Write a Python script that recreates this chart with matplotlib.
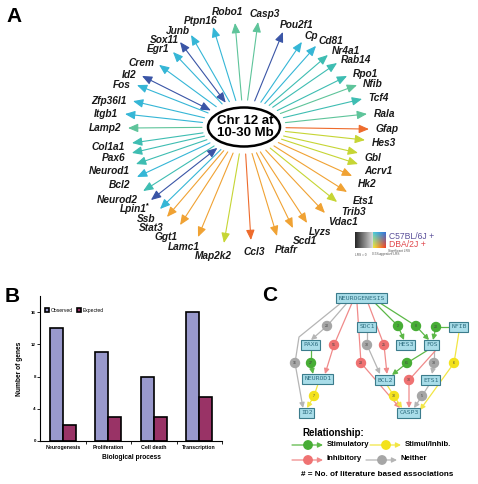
import numpy as np
import matplotlib
matplotlib.use('Agg')
import matplotlib.pyplot as plt
from matplotlib.patches import Ellipse, FancyBboxPatch, Circle

plt.rcParams['font.family'] = ['Liberation Sans', 'DejaVu Sans']

# ---------------- данные панели A ----------------
genes = ['Ptpn16', 'Junb', 'Sox11', 'Egr1', 'Crem', 'Id2', 'Fos', 'Zfp36l1', 'Itgb1',
         'Lamp2', 'Col1a1', 'Pax6', 'Neurod1', 'Bcl2', 'Neurod2', 'Lpin1', 'Ssb',
         'Stat3', 'Ggt1', 'Lamc1', 'Map2k2', 'Ccl3', 'Ptafr', 'Scd1', 'Lyzs', 'Vdac1',
         'Trib3', 'Ets1', 'Hk2', 'Acrv1', 'Gbl', 'Hes3', 'Gfap', 'Rala', 'Tcf4', 'Nfib',
         'Rpo1', 'Rab14', 'Nr4a1', 'Cd81', 'Cp', 'Pou2f1', 'Casp3', 'Robo1']
angles = [106.4, 117.7, 124.1, 130.1, 140.0, 149.6, 154.9, 163.4, 170.8,
          177.9, 186.0, 191.3, 197.6, 204.2, 212.0, 217.9, 224.2,
          229.4, 236.8, 247.0, 259.3, 271.9, 284.7, 293.5, 301.0, 311.2,
          319.5, 326.6, 335.3, 342.4, 348.3, 355.7, 1.5, 9.4, 17.5, 25.1,
          31.6, 40.1, 46.3, 53.9, 61.0, 71.9, 84.8, 95.7]
reach = [0.986, 0.987, 0.979, 0.942, 0.941, 0.998, 0.996, 0.975, 1.013,
         0.976, 0.948, 0.962, 0.955, 0.989, 1.004, 0.998, 0.995,
         1.008, 1.002, 1.028, 1.018, 0.974, 0.969, 0.944, 0.956, 0.970,
         0.971, 0.982, 0.948, 0.955, 0.929, 0.970, 1.0, 0.997, 0.989, 0.996,
         0.963, 0.965, 0.960, 0.960, 0.928, 0.948, 0.995, 0.987]
groups = ['cy', 'cy', 'db', 'cy', 'cy', 'db', 'cy', 'cy', 'cy',
          'gr', 'te', 'te', 'te', 'cy', 'te', 'db', 'cy',
          'or', 'or', 'or', 'yg', 'rd', 'or', 'or', 'or', 'or',
          'yg', 'or', 'or', 'yg', 'yg', 'yg', 'rd', 'gr', 'te', 'gr',
          'te', 'te', 'te', 'cy', 'cy', 'db', 'gr', 'gr']
both_ways = ['Sox11', 'Id2', 'Lpin1']
starred = ['Lpin1']

colors = {'db': '#3a55a6', 'cy': '#35b6d6', 'te': '#3ebdb2', 'gr': '#5ec49a',
          'or': '#f0a233', 'yg': '#c6d534', 'rd': '#ee6b2c'}

# ---------------- данные панели B ----------------
processes = ['Neurogenesis', 'Proliferation', 'Cell death', 'Transcription']
observed = [14, 11, 8, 16]
expected = [2, 3, 3, 5.5]

# ---------------- данные панели C ----------------
nodes = {'NEUROGENESIS': (362, 298), 'PAX6': (311, 345), 'SDC1': (367, 327),
         'HES3': (406, 345), 'FOS': (432, 345), 'NFIB': (459, 327),
         'NEUROD1': (318, 379), 'BCL2': (385, 380), 'ETS1': (431, 380),
         'ID2': (307, 413), 'CASP3': (409, 413)}
# (откуда, куда, тип, число, маршрут)
edges = [('NEUROGENESIS', 'PAX6', 'n', 20, [(347, 303), (327, 326), (311, 340)]),
         ('NEUROGENESIS', 'ID2', 'n', 16, [(341, 303), (299, 337), (295, 363), (303, 408)]),
         ('NEUROGENESIS', 'NEUROD1', 'i', 51, [(352, 303), (334, 345), (325, 374)]),
         ('NEUROGENESIS', 'CASP3', 'i', 23, [(357, 303), (361, 363), (400, 408)]),
         ('NEUROGENESIS', 'BCL2', 'i', 25, [(368, 303), (384, 345), (387, 374)]),
         ('NEUROGENESIS', 'HES3', 's', 2, [(375, 303), (398, 326), (404, 340)]),
         ('NEUROGENESIS', 'FOS', 's', 8, [(380, 303), (416, 326), (429, 340)]),
         ('NFIB', 'FOS', 's', 20, [(449, 327), (436, 327), (433, 340)]),
         ('PAX6', 'NEUROD1', 's', 27, [(311, 349), (311, 363), (313, 374)]),
         ('SDC1', 'BCL2', 'n', 30, [(367, 332), (367, 345), (380, 374)]),
         ('FOS', 'BCL2', 's', 61, [(428, 350), (407, 363), (392, 375)]),
         ('FOS', 'ETS1', 'n', 33, [(434, 350), (434, 363), (432, 374)]),
         ('FOS', 'CASP3', 'i', 30, [(436, 350), (409, 380), (409, 408)]),
         ('NFIB', 'CASP3', 'y', 6, [(459, 332), (454, 363), (420, 410)]),
         ('ETS1', 'CASP3', 'n', 5, [(429, 385), (422, 396), (414, 408)]),
         ('BCL2', 'CASP3', 'y', 30, [(387, 385), (394, 396), (402, 408)]),
         ('NEUROD1', 'ID2', 'y', 7, [(318, 384), (314, 396), (307, 408)])]
edge_line = {'s': '#5cb847', 'i': '#f08a8a', 'n': '#b5b5b5', 'y': '#f2e645'}
edge_dot = {'s': '#47ad35', 'i': '#ef7272', 'n': '#a6a6a6', 'y': '#f3e21c'}

fig = plt.figure(figsize=(4.78, 4.84), dpi=100)
ax = fig.add_axes([0, 0, 1, 1])
ax.set_xlim(0, 478)
ax.set_ylim(484, 0)
ax.axis('off')

# ---------------- Панель A ----------------
ring_cx, ring_cy, ring_a, ring_b = 247, 132, 122, 111
ell_cx, ell_cy = 244, 127
fig.canvas.draw()
renderer = fig.canvas.get_renderer()

labels, pos, size = [], [], []
for name, t, r, g in zip(genes, angles, reach, groups):
    c, s = np.cos(np.radians(t)), np.sin(np.radians(t))
    tip = np.array([ring_cx + ring_a * r * c, ring_cy - ring_b * r * s])
    v = tip - np.array([ell_cx, ell_cy])
    k = 1 / np.sqrt((v[0] / 42) ** 2 + (v[1] / 27) ** 2)
    start = np.array([ell_cx, ell_cy]) + k * v
    style = '<|-|>' if name in both_ways else '-|>'
    ax.annotate('', xy=tip, xytext=start,
                arrowprops=dict(arrowstyle=style + ',head_length=0.75,head_width=0.32',
                                color=colors[g], lw=0.8, shrinkA=0, shrinkB=0,
                                mutation_scale=8))
    txt = ax.text(tip[0], tip[1], name, ha='center', va='center', fontsize=7.3,
                  fontweight='bold', fontstyle='italic', color='#1a1a1a')
    bb = txt.get_window_extent(renderer)
    w, h = bb.width, bb.height
    dx = np.sign(c) * np.sqrt(abs(c)) * (w / 2 + 7)
    if s > 0:
        dy = -(h / 2 + 3) * (s ** 2 if c > 0 else s ** 4)
    else:
        dy = (h / 2 + 7) * np.sqrt(-s)
    labels.append(txt)
    pos.append([tip[0] + dx, tip[1] + dy])
    size.append((w, h * 0.9))

# раздвигаем подписи, которые налезают друг на друга
pos = np.array(pos)
for _ in range(60):
    for i in range(len(pos)):
        for j in range(i + 1, len(pos)):
            ox = min(pos[i][0] + size[i][0] / 2, pos[j][0] + size[j][0] / 2) - \
                max(pos[i][0] - size[i][0] / 2, pos[j][0] - size[j][0] / 2)
            oy = min(pos[i][1] + size[i][1] / 2, pos[j][1] + size[j][1] / 2) - \
                max(pos[i][1] - size[i][1] / 2, pos[j][1] - size[j][1] / 2)
            if ox > 0 and oy > 0:
                d = (oy + 0.3) / 2
                if pos[i][1] < pos[j][1]:
                    pos[i][1] -= d
                    pos[j][1] += d
                else:
                    pos[i][1] += d
                    pos[j][1] -= d
for name, txt, p, sz in zip(genes, labels, pos, size):
    txt.set_position(p)
    if name in starred:
        ax.text(p[0] + sz[0] / 2 + 1.5, p[1] - 3, '*', fontsize=5, fontweight='bold',
                ha='center', va='center')

ax.add_patch(Ellipse((ell_cx, ell_cy), 72, 39, facecolor='white', edgecolor='black',
                     lw=1.8, zorder=5))
ax.text(ell_cx + 1, ell_cy, 'Chr 12 at\n10-30 Mb', ha='center', va='center',
        fontsize=9.5, fontweight='bold', linespacing=1.05, zorder=6)

ax.text(6, 22, 'A', fontsize=15, fontweight='bold')
ax.text(5, 302, 'B', fontsize=15, fontweight='bold')
ax.text(262, 301, 'C', fontsize=15, fontweight='bold')

# легенда цветовой шкалы
gray = np.linspace(0.15, 0.85, 50)[None, :].repeat(2, axis=0)
ax.imshow(gray, cmap='gray', vmin=0, vmax=1, extent=(355, 373, 248, 232),
          aspect='auto', zorder=2)
corner = np.zeros((20, 20, 3))
top_l, top_r = np.array([0.3, 0.8, 0.85]), np.array([0.2, 0.45, 0.85])
bot_l, bot_r = np.array([0.95, 0.9, 0.2]), np.array([0.95, 0.25, 0.15])
for i in range(20):
    for j in range(20):
        u, q = j / 19, i / 19
        corner[i, j] = (1 - q) * ((1 - u) * top_l + u * top_r) + q * ((1 - u) * bot_l + u * bot_r)
ax.imshow(corner, extent=(373, 386, 248, 232), aspect='auto', zorder=2)
ax.text(389, 236.5, 'C57BL/6J +', fontsize=6.2, color='#5a4f9a', va='center')
ax.text(389, 244.5, 'DBA/2J +', fontsize=6.2, color='#e0454a', va='center')
ax.text(355, 254.5, 'LRS = 0', fontsize=2.3, color='#555555', va='center')
ax.text(372, 254.5, '0.5Suggestive LRS', fontsize=2.3, color='#555555', va='center')
ax.text(388, 250.8, 'Significant LRS', fontsize=2.3, color='#555555', va='center')

# ---------------- Панель C ----------------
for src, dst, kind, n, path in edges:
    pts = np.array(path)
    ax.plot(pts[:-1, 0], pts[:-1, 1], color=edge_line[kind], lw=0.9, zorder=2)
    ax.annotate('', xy=pts[-1], xytext=pts[-2],
                arrowprops=dict(arrowstyle='-|>,head_length=0.5,head_width=0.25',
                                color=edge_line[kind], lw=0.9, shrinkA=0, shrinkB=0,
                                mutation_scale=6), zorder=2)
    mid = pts[2] if len(pts) > 3 else pts[1]
    ax.add_patch(Circle(mid, 4.5, color=edge_dot[kind], zorder=3))
    ax.text(mid[0], mid[1], str(n), fontsize=2.6, ha='center', va='center',
            color='#444444', zorder=4)

for name, (x, y) in nodes.items():
    w = 4.0 * len(name) + 3
    ax.add_patch(FancyBboxPatch((x - w / 2, y - 5), w, 10, boxstyle='square,pad=0',
                                facecolor='#a9dde9', edgecolor='#3b7c8c', lw=0.8, zorder=4))
    ax.text(x, y, name, fontsize=4.6, family='DejaVu Sans Mono', ha='center',
            va='center', color='#2e6e80', zorder=5)

ax.text(302, 433, 'Relationship:', fontsize=7, fontweight='bold', va='center')
legend_rows = [('s', 'Stimulatory', 292, 445), ('y', 'Stimul/Inhib.', 370, 445),
               ('i', 'Inhibitory', 292, 460), ('n', 'Neither', 366, 460)]
for kind, label, x0, y0 in legend_rows:
    ax.annotate('', xy=(x0 + 31, y0), xytext=(x0, y0),
                arrowprops=dict(arrowstyle='-|>,head_length=0.5,head_width=0.25',
                                color=edge_line[kind], lw=0.9, shrinkA=0, shrinkB=0,
                                mutation_scale=6))
    ax.add_patch(Circle((x0 + 16, y0), 4.2, color=edge_dot[kind], zorder=3))
    ax.text(x0 + 35, y0 - 1, label, fontsize=5.6, fontweight='bold', va='center')
ax.text(301, 474, '# = No. of literature based associations', fontsize=5.9,
        fontweight='bold', va='center')

# ---------------- Панель B ----------------
axb = fig.add_axes([40 / 478, 1 - 441 / 484, 182 / 478, 145 / 484])
x = np.arange(len(processes)) + 0.5
bw = 0.29
axb.bar(x - bw / 2, observed, bw, color='#9999cc', edgecolor='black', lw=1.2,
        label='Observed')
axb.bar(x + bw / 2, expected, bw, color='#993366', edgecolor='black', lw=1.2,
        label='Expected')
axb.set_xlim(0, 4)
axb.set_ylim(0, 18)
axb.set_yticks([0, 4, 8, 12, 16])
axb.set_xticks(x)
axb.set_xticklabels(processes, fontsize=3.8, fontweight='bold')
axb.set_xticks([1, 2, 3, 4], minor=True)
axb.tick_params(axis='x', which='major', length=0, pad=3)
axb.tick_params(axis='x', which='minor', length=2, width=0.6)
axb.tick_params(axis='y', labelsize=3.2, length=2, width=0.6, pad=1)
for lab in axb.get_yticklabels():
    lab.set_fontweight('bold')
axb.spines['top'].set_visible(False)
axb.spines['right'].set_visible(False)
axb.spines['left'].set_linewidth(0.8)
axb.spines['bottom'].set_linewidth(0.8)
axb.set_xlabel('Biological process', fontsize=4.8, fontweight='bold', labelpad=3)
axb.set_ylabel('Number of genes', fontsize=4.8, fontweight='bold', labelpad=6)
axb.legend(loc='upper left', ncol=2, fontsize=3.6, frameon=False,
           handlelength=0.9, handleheight=0.9, columnspacing=0.8,
           handletextpad=0.3, bbox_to_anchor=(0.0, 0.95))
axb.patch.set_alpha(0)

fig.savefig('out.png', dpi=100)
